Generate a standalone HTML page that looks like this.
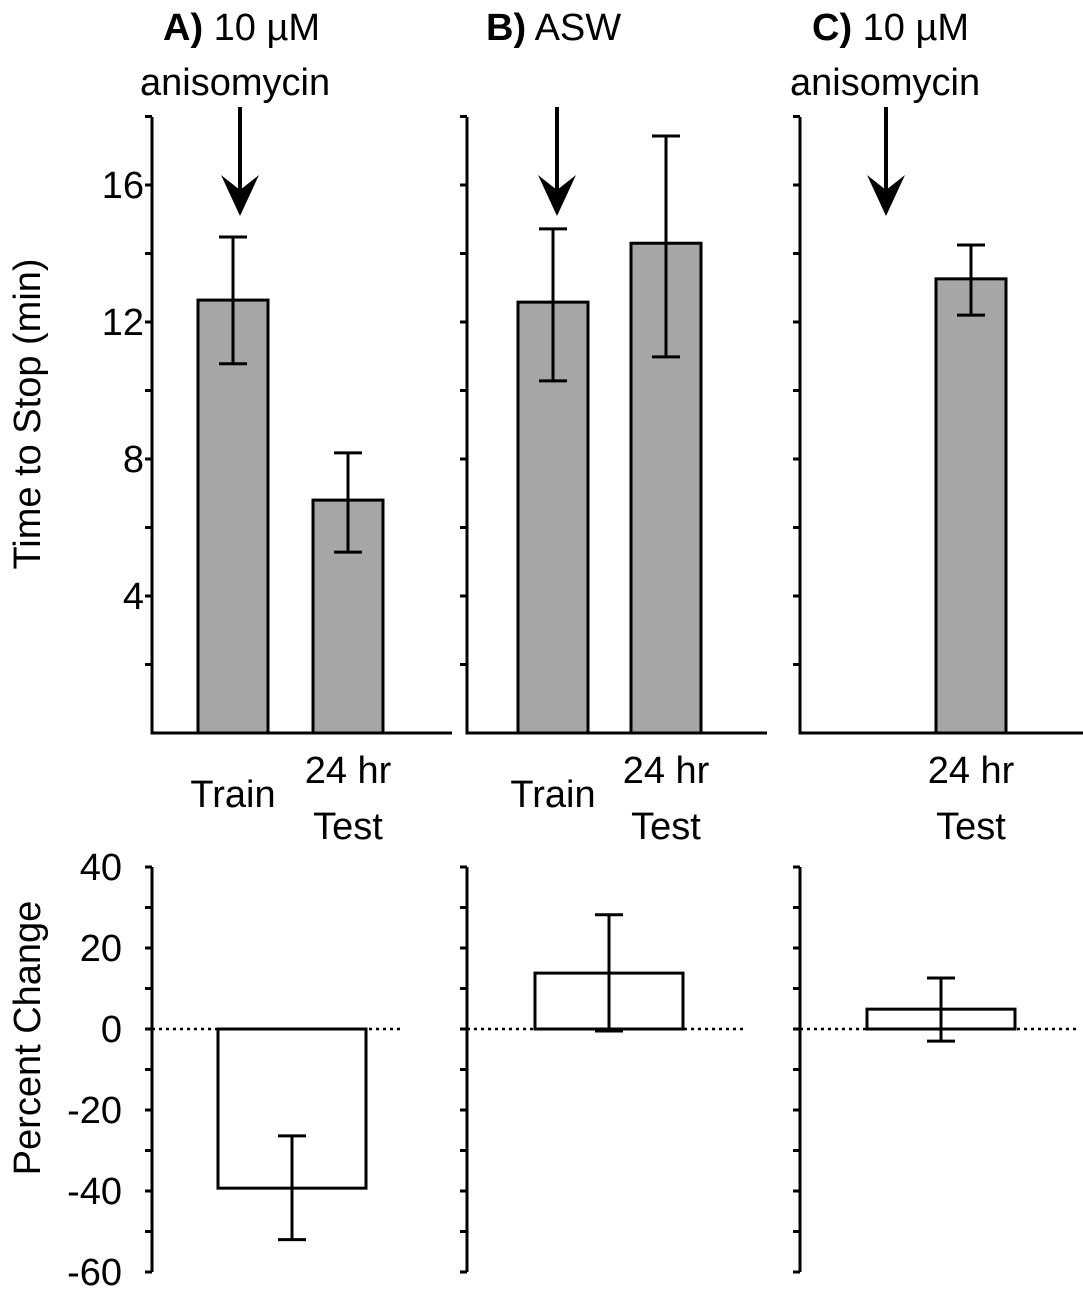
<!DOCTYPE html>
<html><head><meta charset="utf-8"><style>
body{margin:0;background:#fff}
svg text{font-family:"Liberation Sans",Arial,sans-serif;fill:#000}
</style></head><body>
<svg id="chart" width="1083" height="1297" xmlns="http://www.w3.org/2000/svg"></svg>
<script>
const panels=['A','B','C'];
const panelTitles=[['A)',' 10 µM','anisomycin'],['B)',' ASW',''],['C)',' 10 µM','anisomycin']];
const topCats=[['Train','24 hr Test'],['Train','24 hr Test'],['24 hr Test']];
const topValues=[[12.64,6.8],[12.58,14.3],[13.26]];
const topErrHi=[[14.48,8.18],[14.72,17.43],[14.25]];
const topErrLo=[[10.78,5.28],[10.28,10.98],[12.2]];
const pctValues=[-39.3,13.8,4.9];
const pctErrHi=[-26.4,28.2,12.6];
const pctErrLo=[-52,-0.5,-3];
const topTicks=[4,8,12,16];
const pctTicks=[40,20,0,-20,-40,-60];

const svg=document.getElementById('chart');
const NS='http://www.w3.org/2000/svg';
const FS=38;
function mk(tag,attrs,parent){const e=document.createElementNS(NS,tag);for(const k in attrs)e.setAttribute(k,attrs[k]);(parent||svg).appendChild(e);return e;}
const axX=[152,467,800];
const topY=v=>733-v*34.25;
const pctY=v=>1029-v*4.05;
const topBarX=[[198,313],[518,631],[936]];
const pctBarX=[218,535,867];
const arrowX=[240,557,886];
const titleX=[[163,205,140],[486,540,0],[812,852,790]];

let t=mk('text',{x:0,y:0,'font-size':FS,'text-anchor':'middle',transform:'translate(40,414) rotate(-90)'});t.textContent='Time to Stop (min)';


t=mk('text',{x:0,y:0,'font-size':FS,'text-anchor':'middle',transform:'translate(40,1038) rotate(-90)'});t.textContent='Percent Change';



panels.forEach((p,i)=>{
  const g=mk('g',{});
  
  
  const ax=axX[i];
  const tt=mk('text',{x:titleX[i][0],y:40,'font-size':FS},g);
  const b=document.createElementNS(NS,'tspan');b.setAttribute('font-weight','bold');b.textContent=panelTitles[i][0];tt.appendChild(b);
  const s=document.createElementNS(NS,'tspan');s.textContent=panelTitles[i][1];tt.appendChild(s);
  
  
  if(panelTitles[i][2]){const t2=mk('text',{x:titleX[i][2],y:95,'font-size':FS},g);t2.textContent=panelTitles[i][2];
    
    }
  const ar=mk('g',{},g);
  
  
  mk('line',{x1:arrowX[i],y1:107,x2:arrowX[i],y2:205,stroke:'#000','stroke-width':4},ar);
  mk('path',{d:`M${arrowX[i]-19},175 L${arrowX[i]},216 L${arrowX[i]+19},175 L${arrowX[i]},190 Z`,fill:'#000'},ar);
  const axl=mk('path',{d:`M${ax},117 L${ax},733 L${ax+300},733`,fill:'none',stroke:'#000','stroke-width':3},g);
  
  
  for(let v=2;v<=18;v+=2){mk('line',{x1:ax-7,x2:ax,y1:topY(v),y2:topY(v),stroke:'#000','stroke-width':3},g);}
  if(i===0)topTicks.forEach(v=>{const l=mk('text',{x:ax-8,y:topY(v)+13,'font-size':FS,'text-anchor':'end'},g);l.textContent=v;
    
    });
  topValues[i].forEach((v,j)=>{
    const x=topBarX[i][j];
    const r=mk('rect',{x:x,y:topY(v),width:70,height:topY(0)-topY(v),fill:'#a6a6a6',stroke:'#000','stroke-width':3},g);
    
    
    const cx=x+35,h=topY(topErrHi[i][j]),lo=topY(topErrLo[i][j]);
    mk('path',{d:`M${cx},${h} L${cx},${lo} M${cx-14},${h} L${cx+14},${h} M${cx-14},${lo} L${cx+14},${lo}`,stroke:'#000','stroke-width':3,fill:'none'},g);
    const c=topCats[i][j];
    if(c==='Train'){const l=mk('text',{x:cx,y:807,'font-size':FS,'text-anchor':'middle'},g);l.textContent='Train';
      
      }
    else{const l=mk('text',{x:cx,y:783,'font-size':FS,'text-anchor':'middle'},g);l.textContent='24 hr';
      
      
      const l2=mk('text',{x:cx,y:839,'font-size':FS,'text-anchor':'middle'},g);l2.textContent='Test';
      
      }
  });
  const bl=mk('line',{x1:ax,x2:ax,y1:pctY(40),y2:pctY(-60),stroke:'#000','stroke-width':3},g);
  
  
  for(let v=-60;v<=40;v+=10){mk('line',{x1:ax-7,x2:ax,y1:pctY(v),y2:pctY(v),stroke:'#000','stroke-width':3},g);}
  if(i===0)pctTicks.forEach(v=>{const l=mk('text',{x:ax-30,y:pctY(v)+13,'font-size':FS,'text-anchor':'end'},g);l.textContent=v;
    
    });
  mk('line',{x1:ax,x2:ax+(i===0?248:278),y1:pctY(0),y2:pctY(0),stroke:'#000','stroke-width':2.5,'stroke-dasharray':'3,4'},g);
  const v=pctValues[i],x=pctBarX[i];
  const r=mk('rect',{x:x,y:Math.min(pctY(v),pctY(0)),width:148,height:Math.abs(pctY(v)-pctY(0)),fill:'#fff',stroke:'#000','stroke-width':3},g);
  
  
  const cx=x+74,h=pctY(pctErrHi[i]),lo=pctY(pctErrLo[i]);
  mk('path',{d:`M${cx},${h} L${cx},${lo} M${cx-14},${h} L${cx+14},${h} M${cx-14},${lo} L${cx+14},${lo}`,stroke:'#000','stroke-width':3,fill:'none'},g);
});
</script>
</body></html>
